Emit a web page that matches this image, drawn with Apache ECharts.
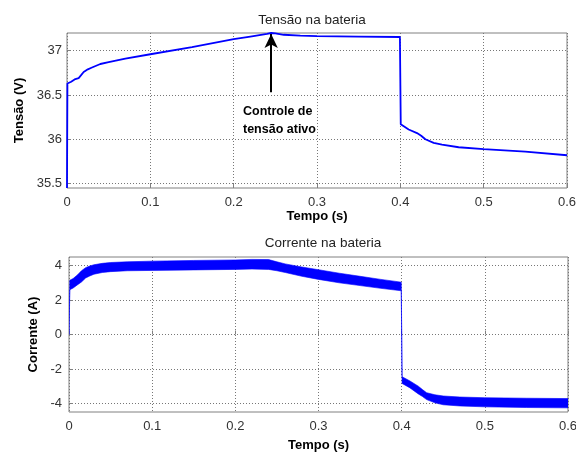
<!DOCTYPE html>
<html>
<head>
<meta charset="utf-8">
<script src="https://cdn.jsdelivr.net/npm/echarts@6/dist/echarts.min.js"></script>
<style>
html,body{margin:0;padding:0;background:#fff;}
#c{width:576px;height:453px;}
</style>
</head>
<body>
<div id="c"></div>
<script>
// ---- data ----
const xTicks = [0, 0.1, 0.2, 0.3, 0.4, 0.5, 0.6];
const vTicks = [35.5, 36, 36.5, 37];
const iTicks = [-4, -2, 0, 2, 4];

const timeV = [0, 0.0005, 0.005, 0.01, 0.014, 0.02, 0.025, 0.03, 0.04, 0.05, 0.07, 0.1, 0.15, 0.2, 0.22, 0.24, 0.245, 0.25, 0.26, 0.28, 0.3, 0.35, 0.3995, 0.4005, 0.41, 0.42, 0.425, 0.43, 0.44, 0.45, 0.47, 0.5, 0.55, 0.6];
const voltage = [35.45, 36.63, 36.65, 36.68, 36.69, 36.76, 36.79, 36.81, 36.85, 36.87, 36.91, 36.96, 37.04, 37.13, 37.16, 37.19, 37.2, 37.195, 37.18, 37.17, 37.165, 37.16, 37.155, 36.17, 36.11, 36.07, 36.04, 36.0, 35.96, 35.94, 35.91, 35.89, 35.86, 35.82];

const timeI = [0, 0.001, 0.005, 0.01, 0.015, 0.02, 0.025, 0.03, 0.04, 0.05, 0.07, 0.1, 0.15, 0.2, 0.22, 0.24, 0.25, 0.26, 0.28, 0.3, 0.325, 0.35, 0.375, 0.3995, 0.4005, 0.41, 0.42, 0.425, 0.43, 0.44, 0.45, 0.47, 0.5, 0.55, 0.6];
const currentUpper = [0, 3.15, 3.25, 3.45, 3.7, 3.88, 3.98, 4.05, 4.13, 4.18, 4.22, 4.26, 4.3, 4.33, 4.36, 4.35, 4.22, 4.1, 3.92, 3.76, 3.56, 3.38, 3.2, 3.04, -2.45, -2.7, -3.0, -3.2, -3.38, -3.5, -3.57, -3.63, -3.67, -3.7, -3.72];
const currentLower = [0, 2.6, 2.7, 2.88, 3.05, 3.28, 3.4, 3.5, 3.6, 3.65, 3.7, 3.72, 3.75, 3.78, 3.8, 3.78, 3.7, 3.6, 3.38, 3.2, 3.0, 2.84, 2.68, 2.54, -2.84, -3.1, -3.45, -3.6, -3.78, -3.97, -4.08, -4.15, -4.2, -4.24, -4.26];

// ---- chart ----
const FONT = 'Liberation Sans, Arial, sans-serif';
const BLUE = '#0000ff';
const fmtX = v => (Math.abs(v) < 1e-9 ? '0' : String(+v.toFixed(1)));
const nameStyle = { fontFamily: FONT, fontSize: 13, fontWeight: 'bold', color: '#000' };
const labelStyle = { fontFamily: FONT, fontSize: 13, color: '#333' };
const gridLine = { show: true, lineStyle: { color: '#777', type: [1, 2], width: 1 } };

function xAxis(gridIndex, nameGap) {
  return {
    type: 'value', gridIndex, min: 0, max: 0.6, interval: 0.1,
    name: 'Tempo (s)', nameLocation: 'middle', nameGap,
    nameTextStyle: nameStyle,
    axisLine: { show: false },
    axisTick: { show: true, inside: true, length: 4, lineStyle: { color: '#808080' } },
    axisLabel: Object.assign({ margin: 8, formatter: fmtX, showMinLabel: true, showMaxLabel: true }, labelStyle),
    splitLine: gridLine
  };
}

// band of the current ripple: polygon upper edge forward, lower edge backward
function renderBand(params, api) {
  if (params.dataIndexInside !== 0) return null;
  const n = params.dataInsideLength;
  const pts = [];
  for (let j = 0; j < n; j++) pts.push(api.coord([api.value(0, j), api.value(2, j)]));
  for (let j = n - 1; j >= 0; j--) pts.push(api.coord([api.value(0, j), api.value(1, j)]));
  return {
    type: 'polygon',
    shape: { points: pts },
    style: { fill: BLUE, stroke: BLUE, lineWidth: 0.6, opacity: 1 }
  };
}

const chart = echarts.init(document.getElementById('c'), null, { renderer: 'canvas' });
const option = {
  animation: false,
  backgroundColor: '#fff',
  title: [
    { text: 'Tensão na bateria', left: 307, top: 8, textAlign: 'center',
      textStyle: { fontFamily: FONT, fontSize: 13.5, fontWeight: 'normal', color: '#222' } },
    { text: 'Corrente na bateria', left: 318, top: 231, textAlign: 'center',
      textStyle: { fontFamily: FONT, fontSize: 13.5, fontWeight: 'normal', color: '#222' } }
  ],
  grid: [
    { left: 67, right: 9, top: 33, height: 155, show: true, borderColor: '#808080', borderWidth: 1, backgroundColor: 'transparent', containLabel: false, outerBoundsMode: 'none' },
    { left: 69, right: 8, top: 257, height: 155, show: true, borderColor: '#808080', borderWidth: 1, backgroundColor: 'transparent', containLabel: false, outerBoundsMode: 'none' }
  ],
  xAxis: [xAxis(0, 21), xAxis(1, 27)],
  yAxis: [
    {
      type: 'value', gridIndex: 0, min: 35.45, max: 37.2,
      name: 'Tensão (V)', nameLocation: 'middle', nameGap: 38,
      nameTextStyle: nameStyle,
      axisLine: { show: false },
      axisTick: { show: true, inside: true, length: 4, customValues: vTicks, lineStyle: { color: '#808080' } },
      axisLabel: Object.assign({ margin: 5, customValues: vTicks }, labelStyle),
      splitLine: gridLine
    },
    {
      type: 'value', gridIndex: 1, min: -4.5, max: 4.5,
      name: 'Corrente (A)', nameLocation: 'middle', nameGap: 23,
      nameTextStyle: nameStyle,
      axisLine: { show: false },
      axisTick: { show: true, inside: true, length: 4, customValues: iTicks, lineStyle: { color: '#808080' } },
      axisLabel: Object.assign({ margin: 7, customValues: iTicks }, labelStyle),
      splitLine: gridLine
    }
  ],
  graphic: [
    { type: 'text', left: 243, top: 103, z: 100,
      style: { text: 'Controle de\ntensão ativo', font: 'bold 12.5px ' + FONT, fill: '#000', lineHeight: 18 } }
  ],
  series: [
    {
      type: 'line', xAxisIndex: 0, yAxisIndex: 0, showSymbol: false, symbol: 'none',
      data: timeV.map((t, i) => [t, voltage[i]]),
      lineStyle: { color: BLUE, width: 1.8 },
      markLine: {
        silent: true, symbol: ['none', 'arrow'], symbolSize: [10, 14],
        label: { show: false },
        lineStyle: { color: '#000', width: 2, type: 'solid' },
        data: [[{ coord: [0.245, 36.53] }, { coord: [0.245, 37.19] }]]
      }
    },
    {
      type: 'custom', xAxisIndex: 1, yAxisIndex: 1,
      renderItem: renderBand,
      encode: { x: 0, y: [1, 2] },
      data: timeI.map((t, i) => [t, currentLower[i], currentUpper[i]]),
      clip: true
    }
  ]
};
chart.setOption(option);
</script>
</body>
</html>
